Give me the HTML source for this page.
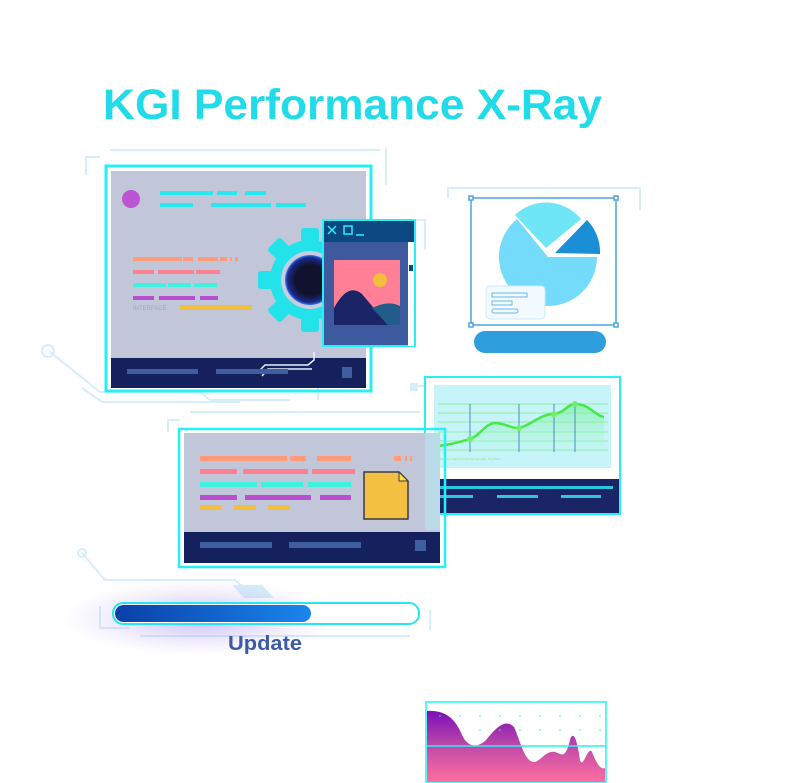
<!DOCTYPE html>
<html><head><meta charset="utf-8"><style>
html,body{margin:0;padding:0;background:#fff;width:806px;height:783px;overflow:hidden}
svg{display:block}
</style></head><body>
<svg width="806" height="783" viewBox="0 0 806 783" xmlns="http://www.w3.org/2000/svg">
<defs>
<linearGradient id="pg" x1="0" x2="1"><stop offset="0" stop-color="#0a3fa8"/><stop offset="1" stop-color="#1a86ee"/></linearGradient>
<radialGradient id="glow" cx="0.5" cy="0.5" r="0.5"><stop offset="0" stop-color="#9a7be8" stop-opacity="0.55"/><stop offset="1" stop-color="#c8b8f5" stop-opacity="0"/></radialGradient>
<radialGradient id="hole" cx="0.5" cy="0.5" r="0.5"><stop offset="0.6" stop-color="#10122e"/><stop offset="0.9" stop-color="#1b2a8a"/><stop offset="1" stop-color="#2f7cff"/></radialGradient>
<linearGradient id="wave" x1="0" y1="0" x2="0" y2="1"><stop offset="0" stop-color="#7a0fb8"/><stop offset="0.5" stop-color="#c04aa8"/><stop offset="1" stop-color="#ff6fa0"/></linearGradient>
<linearGradient id="gfill" x1="0" y1="0" x2="0" y2="1"><stop offset="0" stop-color="#6ef08a" stop-opacity="0.6"/><stop offset="1" stop-color="#b8f5e8" stop-opacity="0.2"/></linearGradient>
</defs>

<!-- title -->
<text x="103" y="119" font-family="Liberation Sans, sans-serif" font-weight="bold" font-size="43" fill="#22dbe8" textLength="499" lengthAdjust="spacingAndGlyphs">KGI Performance X-Ray</text>

<!-- faint decorative lines -->
<g stroke="#d6eef8" stroke-width="2" fill="none">
<path d="M86 175 V157 H100"/><path d="M110 150 H380 M386 148 V185"/>
<path d="M50 352 L100 392 H200 L210 400 H290"/><circle cx="48" cy="351" r="6"/>
<path d="M82 388 L102 402 H240"/>
<path d="M168 432 V420 H180 M190 412 H420"/>
<path d="M82 553 L105 580 H235 L248 592"/><circle cx="82" cy="553" r="4"/>
<path d="M100 606 V628 H130 M140 636 H410 M430 610 V630"/>
<path d="M448 198 V188 H640 V210"/>
<path d="M415 386 H425 M380 220 H425 V250"/>
<path d="M318 340 V400"/>
</g>
<rect x="410" y="383" width="8" height="8" fill="#d6eef8"/>
<polygon points="232,585 262,585 274,598 244,598" fill="#d6eef8"/>

<!-- main window -->
<rect x="106" y="166" width="265" height="225" fill="none" stroke="#27f0f4" stroke-width="3"/>
<rect x="111" y="171" width="255" height="187" fill="#c1c6d9"/>
<rect x="111" y="358" width="255" height="30" fill="#15215c"/>
<circle cx="131" cy="199" r="9" fill="#bb55d4"/>
<g fill="#27e8ec">
<rect x="160" y="191" width="53" height="4"/><rect x="217" y="191" width="20" height="4"/><rect x="245" y="191" width="21" height="4"/>
<rect x="160" y="203" width="33" height="4"/><rect x="211" y="203" width="60" height="4"/><rect x="276" y="203" width="30" height="4"/>
</g>
<g fill="#ff9a7a"><rect x="133" y="257" width="49" height="4"/><rect x="183" y="257" width="10" height="4"/><rect x="198" y="257" width="20" height="4"/><rect x="220" y="257" width="7" height="4"/><rect x="230" y="257" width="2" height="4"/><rect x="235" y="257" width="3" height="4"/></g>
<g fill="#ff8090"><rect x="133" y="270" width="21" height="4"/><rect x="158" y="270" width="36" height="4"/><rect x="196" y="270" width="24" height="4"/></g>
<g fill="#3ef2e0"><rect x="133" y="283" width="33" height="4"/><rect x="168" y="283" width="23" height="4"/><rect x="194" y="283" width="23" height="4"/></g>
<g fill="#b84fd0"><rect x="133" y="296" width="21" height="4"/><rect x="159" y="296" width="36" height="4"/><rect x="200" y="296" width="18" height="4"/></g>
<text x="133" y="310" font-family="Liberation Sans, sans-serif" font-size="6" fill="#9aa8d0">INTERFACE</text>
<rect x="180" y="305" width="72" height="5" fill="#f2bf3c"/>
<!-- gear -->
<g transform="translate(310,280)" fill="#24e2ea">
<circle r="40"/>
<g id="t"><rect x="-9" y="-52" width="18" height="16" rx="3"/></g>
<use href="#t" transform="rotate(45)"/><use href="#t" transform="rotate(90)"/><use href="#t" transform="rotate(135)"/><use href="#t" transform="rotate(180)"/><use href="#t" transform="rotate(225)"/><use href="#t" transform="rotate(270)"/><use href="#t" transform="rotate(315)"/>
<circle r="29" fill="#c9cde0"/>
<circle r="25" fill="url(#hole)"/>
</g>
<g stroke="#e6f3ff" stroke-width="1.5" fill="none"><path d="M258 372 L265 365 H308 L314 360 V352"/><path d="M262 376 L268 369 H312"/></g>
<g fill="#3f5ea0"><rect x="127" y="369" width="71" height="5"/><rect x="216" y="369" width="72" height="5"/><rect x="342" y="367" width="10" height="11"/></g>

<!-- popup window -->
<rect x="323" y="220" width="92" height="126" fill="#3d5a9e" stroke="#27f0f4" stroke-width="2"/>
<rect x="324" y="221" width="90" height="21" fill="#0b4780"/>
<g stroke="#27f0f4" stroke-width="1.5" fill="none"><path d="M328 226 L336 234 M336 226 L328 234"/><rect x="344" y="226" width="8" height="8"/><path d="M356 235 H364"/></g>
<rect x="408" y="242" width="6" height="104" fill="#fff"/>
<rect x="409" y="265" width="4" height="6" fill="#0b4780"/>
<rect x="334" y="260" width="66" height="65" fill="#ff8096"/>
<circle cx="380" cy="280" r="7" fill="#f2bf3c"/>
<path d="M334 325 V308 Q348 282 362 294 L388 325 Z" fill="#1b2466"/>
<path d="M372 308 Q388 300 400 306 V325 H388 Z" fill="#235c8a"/>

<!-- pie panel -->
<rect x="471" y="198" width="145" height="127" fill="#fff" stroke="#4aa6e0" stroke-width="1.5"/>
<g fill="#fff" stroke="#4aa6e0" stroke-width="1.5"><rect x="469" y="196" width="4" height="4"/><rect x="614" y="196" width="4" height="4"/><rect x="469" y="323" width="4" height="4"/><rect x="614" y="323" width="4" height="4"/></g>
<path d="M548 257 L597 257 A49 49 0 1 1 517 219 Z" fill="#74dbfb"/>
<path d="M546 248 L515 215 A45 45 0 0 1 581 219 Z" fill="#6ee6f6"/>
<path d="M555 253 L587 220 A46 46 0 0 1 600 254 Z" fill="#1a8fd6"/>
<rect x="486" y="286" width="59" height="33" rx="4" fill="#f2faff" stroke="#cfe8f8"/>
<g fill="none" stroke="#6ab8e8" stroke-width="1"><rect x="492" y="293" width="35" height="4"/><rect x="492" y="301" width="20" height="4"/><rect x="492" y="309" width="26" height="4" rx="2"/></g>
<rect x="474" y="331" width="132" height="22" rx="11" fill="#2e9fdc"/>

<!-- line chart panel -->
<rect x="425" y="377" width="195" height="137" fill="#fff" stroke="#27f0f4" stroke-width="2"/>
<rect x="434" y="385" width="177" height="83" fill="#c6f4f8"/>
<g stroke="#8ef0a0" stroke-width="1"><path d="M438 404 H608 M438 413 H608 M438 422 H608 M438 432 H608 M438 441 H608 M438 450 H608"/></g>
<path d="M438 446 C455 444 462 441 470 439 C480 436 484 424 495 423 C505 423 512 429 519 428 C530 426 540 414 554 414 C564 413 568 404 575 404 C590 404 595 416 604 417 V452 H438 Z" fill="url(#gfill)"/>
<path d="M438 446 C455 444 462 441 470 439 C480 436 484 424 495 423 C505 423 512 429 519 428 C530 426 540 414 554 414 C564 413 568 404 575 404 C590 404 595 416 604 417" fill="none" stroke="#46e84a" stroke-width="2.5"/>
<g stroke="#4a8ad0" stroke-width="1"><path d="M470 404 V452 M519 404 V452 M554 404 V452 M575 404 V452"/></g>
<g fill="#6ef06a"><circle cx="470" cy="439" r="3"/><circle cx="519" cy="428" r="3"/><circle cx="554" cy="414" r="3"/><circle cx="575" cy="404" r="3"/></g>
<g fill="#7ae880" font-family="Liberation Sans, sans-serif" font-size="3"><text x="440" y="460">Mon Tue Wed Thu Fri Sat Sun Mon Tue Wed</text></g>
<rect x="426" y="479" width="193" height="34" fill="#1a2566"/>
<g fill="#2ec6dc"><rect x="434" y="486" width="179" height="3"/><rect x="434" y="495" width="39" height="3"/><rect x="497" y="495" width="41" height="3"/><rect x="561" y="495" width="40" height="3"/></g>

<!-- second window -->
<rect x="179" y="429" width="266" height="138" fill="none" stroke="#27f0f4" stroke-width="2.5"/>
<rect x="184" y="433" width="256" height="99" fill="#c1c6d9"/>
<rect x="184" y="532" width="256" height="31" fill="#15215c"/>
<rect x="425" y="433" width="15" height="97" fill="#b8e8f2" opacity="0.6"/>
<g fill="#ff9a7a"><rect x="200" y="456" width="87" height="5"/><rect x="290" y="456" width="16" height="5"/><rect x="317" y="456" width="34" height="5"/><rect x="394" y="456" width="7" height="5"/><rect x="405" y="456" width="2" height="5"/><rect x="410" y="456" width="2" height="5"/></g>
<g fill="#ff8090"><rect x="200" y="469" width="37" height="5"/><rect x="243" y="469" width="65" height="5"/><rect x="312" y="469" width="43" height="5"/></g>
<g fill="#3ef2e0"><rect x="200" y="482" width="57" height="5"/><rect x="261" y="482" width="42" height="5"/><rect x="308" y="482" width="43" height="5"/></g>
<g fill="#b84fd0"><rect x="200" y="495" width="37" height="5"/><rect x="245" y="495" width="66" height="5"/><rect x="320" y="495" width="31" height="5"/></g>
<g fill="#f2bf3c"><rect x="200" y="505" width="21" height="5"/><rect x="234" y="505" width="22" height="5"/><rect x="268" y="505" width="22" height="5"/></g>
<path d="M364 472 H399 L408 481 V519 H364 Z" fill="#f4c042" stroke="#3a3a4a" stroke-width="1.5"/>
<path d="M399 472 V481 H408 Z" fill="#ffe040" stroke="#3a3a4a" stroke-width="1"/>
<g fill="#3f5ea0"><rect x="200" y="542" width="72" height="6"/><rect x="289" y="542" width="72" height="6"/><rect x="415" y="540" width="11" height="11"/></g>

<!-- progress bar -->
<ellipse cx="200" cy="618" rx="140" ry="38" fill="url(#glow)"/>
<rect x="113" y="603" width="306" height="21" rx="10" fill="#fff" stroke="#27e6f0" stroke-width="2"/>
<rect x="115" y="605" width="196" height="17" rx="8.5" fill="url(#pg)"/>
<text x="228" y="650" font-family="Liberation Sans, sans-serif" font-weight="bold" font-size="20" fill="#3d5aa6" textLength="74" lengthAdjust="spacingAndGlyphs">Update</text>

<!-- wave chart -->
<rect x="426" y="702" width="180" height="80" fill="#fff" stroke="#27f0f4" stroke-width="1.5"/>
<path d="M427 711 C445 710 455 718 462 735 C468 748 478 748 486 740 C496 728 505 718 514 727 C520 740 524 760 533 762 C540 763 545 750 555 752 C562 754 565 760 570 740 C573 730 577 738 580 760 C583 770 588 745 592 752 C596 762 600 770 605 768 V782 H427 Z" fill="url(#wave)"/>
<path d="M427 746 H606" stroke="#27f0f4" stroke-width="1.5"/>
<g fill="#27f0f4"><circle cx="440" cy="716" r="0.8"/><circle cx="460" cy="716" r="0.8"/><circle cx="480" cy="716" r="0.8"/><circle cx="500" cy="716" r="0.8"/><circle cx="520" cy="716" r="0.8"/><circle cx="540" cy="716" r="0.8"/><circle cx="560" cy="716" r="0.8"/><circle cx="580" cy="716" r="0.8"/><circle cx="600" cy="716" r="0.8"/>
<circle cx="480" cy="730" r="0.8"/><circle cx="500" cy="730" r="0.8"/><circle cx="520" cy="730" r="0.8"/><circle cx="540" cy="730" r="0.8"/><circle cx="560" cy="730" r="0.8"/><circle cx="580" cy="730" r="0.8"/><circle cx="600" cy="730" r="0.8"/></g>
</svg>
</body></html>
